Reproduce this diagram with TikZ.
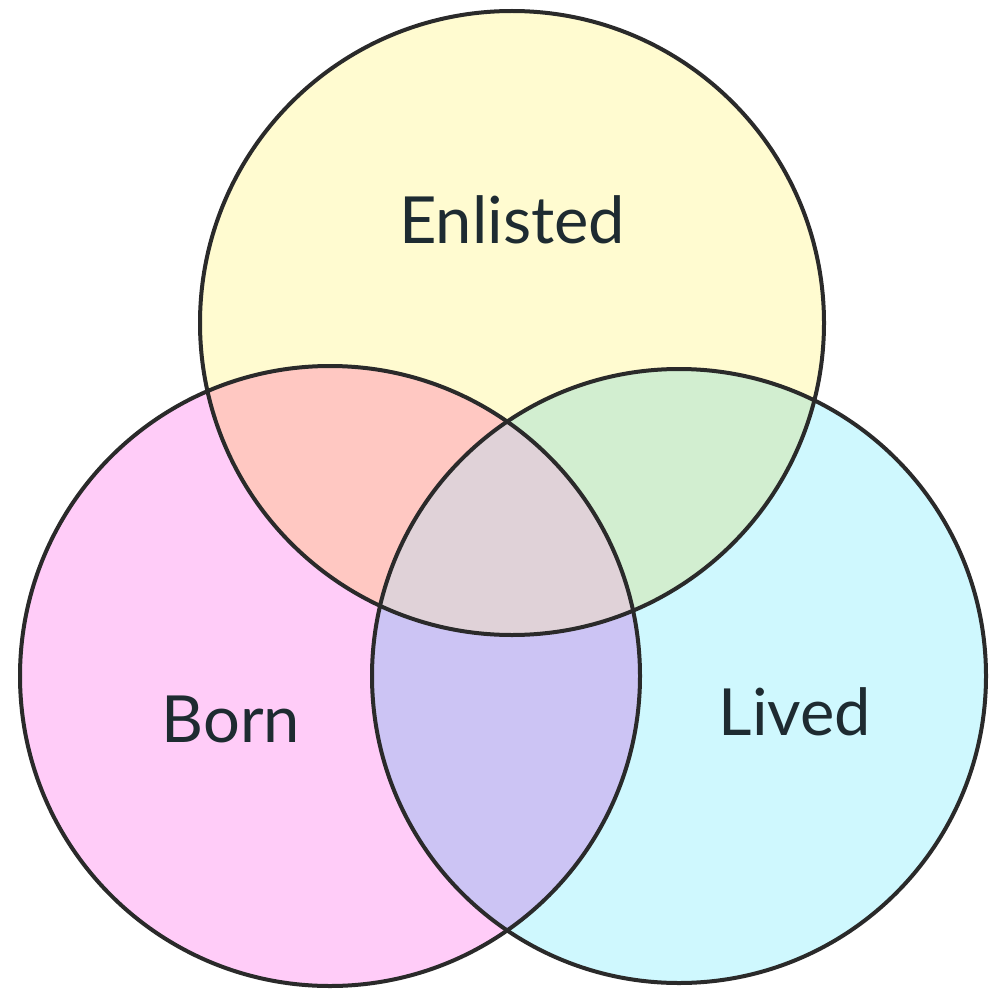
\documentclass[tikz,border=0pt]{standalone}
\usepackage{fontspec}
\setmainfont{Lato}
\definecolor{cE}{HTML}{FFFBD0}
\definecolor{cB}{HTML}{FFCCF8}
\definecolor{cL}{HTML}{CFF8FE}
\definecolor{cEB}{HTML}{FFC8C2}
\definecolor{cEL}{HTML}{D2EED0}
\definecolor{cBL}{HTML}{CCC4F4}
\definecolor{cEBL}{HTML}{E0D2D8}
\definecolor{edge}{HTML}{2A2A2A}
\definecolor{txt}{HTML}{1E2B31}
\tikzset{
  ring/.style={draw=edge, line width=4pt},
  lbl/.style={text=txt, anchor=base, inner sep=0pt, font=\fontsize{65}{78}\selectfont}
}
\begin{document}
\begin{tikzpicture}[x=1pt,y=-1pt]
\useasboundingbox (0,0) rectangle (988,995);
\def\cE{(512,323) circle[radius=312]}
\def\cB{(330,676) circle[radius=310]}
\def\cL{(679,676) circle[radius=307]}
\fill[cE] \cE;
\fill[cB] \cB;
\fill[cL] \cL;
\begin{scope}\clip \cE; \fill[cEB] \cB; \end{scope}
\begin{scope}\clip \cE; \fill[cEL] \cL; \end{scope}
\begin{scope}\clip \cB; \fill[cBL] \cL; \end{scope}
\begin{scope}\clip \cE; \clip \cB; \fill[cEBL] \cL; \end{scope}
\draw[ring] \cE;
\draw[ring] \cB;
\draw[ring] \cL;
\node[lbl] (enl) at (512,243) {Enlisted};
\node[lbl] (born) at (231,742) {Born};
\node[lbl] (lived) at (795,735) {Lived};
\end{tikzpicture}
\end{document}
